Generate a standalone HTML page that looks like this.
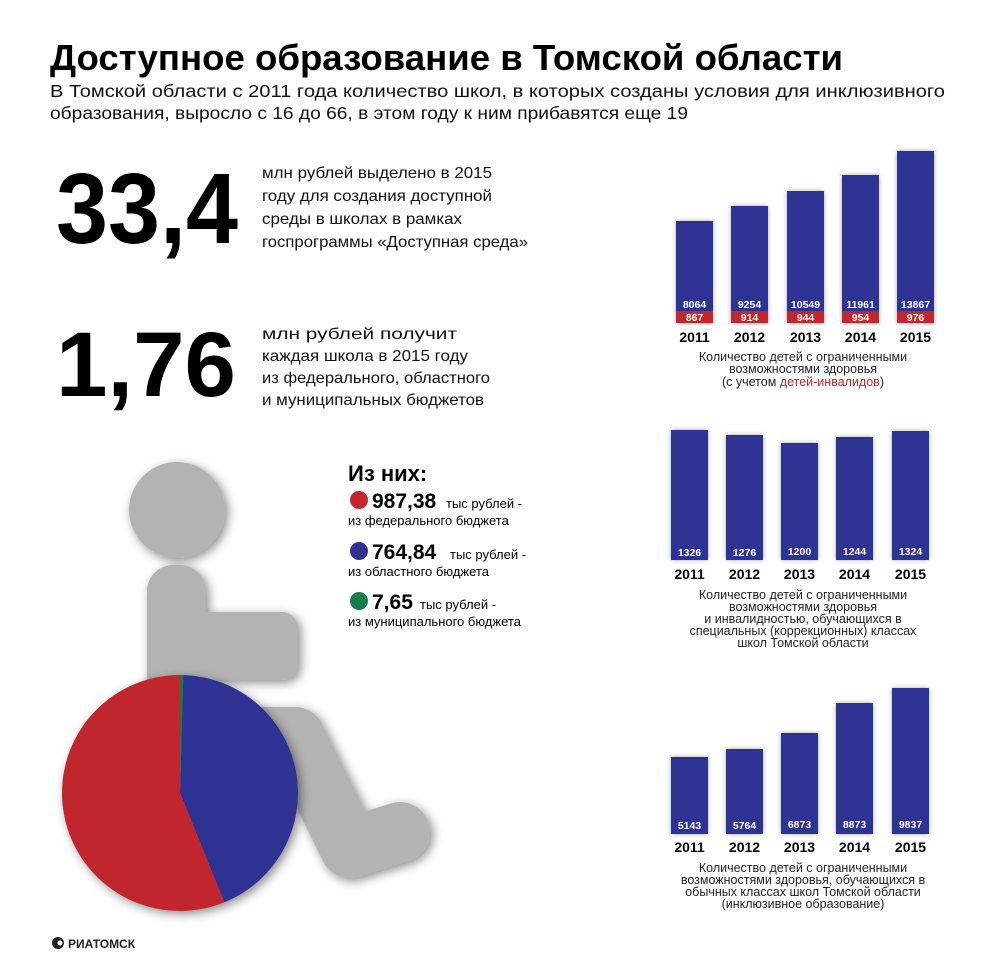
<!DOCTYPE html>
<html><head><meta charset="utf-8"><style>
html,body{margin:0;padding:0;background:#fff}
svg{display:block}
text{font-family:"Liberation Sans",sans-serif}
</style></head><body>
<svg width="1000" height="975" viewBox="0 0 1000 975" xmlns="http://www.w3.org/2000/svg">
<defs>
<filter id="sh" x="-30%" y="-30%" width="160%" height="160%"><feDropShadow dx="3" dy="3" stdDeviation="5" flood-color="#000" flood-opacity="0.45"/></filter>
<filter id="bs" x="-30%" y="-10%" width="160%" height="120%"><feDropShadow dx="0" dy="0" stdDeviation="2.5" flood-color="#000" flood-opacity="0.35"/></filter>
</defs>
<rect width="1000" height="975" fill="#fff"/>
<text x="50" y="70" font-size="36" font-weight="bold" textLength="793" lengthAdjust="spacingAndGlyphs">Доступное образование в Томской области</text>
<text x="50" y="97" font-size="17.5" fill="#111" textLength="895" lengthAdjust="spacingAndGlyphs">В Томской области с 2011 года количество школ, в которых созданы условия для инклюзивного</text>
<text x="50" y="119" font-size="17.5" fill="#111" textLength="638" lengthAdjust="spacingAndGlyphs">образования, выросло с 16 до 66, в этом году к ним прибавятся еще 19</text>

<text x="56" y="243" font-size="100" font-weight="bold" textLength="182" lengthAdjust="spacingAndGlyphs">33,4</text>
<g font-size="16" fill="#111">
<text x="262" y="178" textLength="230" lengthAdjust="spacingAndGlyphs">млн рублей выделено в 2015</text>
<text x="262" y="201" textLength="230" lengthAdjust="spacingAndGlyphs">году для создания доступной</text>
<text x="262" y="224" textLength="200" lengthAdjust="spacingAndGlyphs">среды в школах в рамках</text>
<text x="262" y="247" textLength="266" lengthAdjust="spacingAndGlyphs">госпрограммы «Доступная среда»</text>
<text x="262" y="339" textLength="195" lengthAdjust="spacingAndGlyphs">млн рублей получит</text>
<text x="262" y="361" textLength="206" lengthAdjust="spacingAndGlyphs">каждая школа в 2015 году</text>
<text x="262" y="383" textLength="228" lengthAdjust="spacingAndGlyphs">из федерального, областного</text>
<text x="262" y="405" textLength="222" lengthAdjust="spacingAndGlyphs">и муниципальных бюджетов</text>
</g>
<text x="56" y="396" font-size="92" font-weight="bold" textLength="180" lengthAdjust="spacingAndGlyphs">1,76</text>

<!-- wheelchair figure -->
<g fill="#b3b3b3" filter="url(#sh)">
<circle cx="177" cy="510" r="48"/>
<rect x="147" y="565" width="59" height="180" rx="26"/>
<rect x="147" y="612" width="151" height="68" rx="16"/>
<polyline points="230,737 295,737 350,848 400,832" fill="none" stroke="#b3b3b3" stroke-width="60" stroke-linejoin="round" stroke-linecap="round"/>
</g>
<g filter="url(#sh)">
<path d="M180,793 L183.3,675.05 A118,118 0 0 1 224.2,902.4 Z" fill="#2e3192"/>
<path d="M180,793 L224.2,902.4 A118,118 0 1 1 180,675 Z" fill="#c1272d"/>
<path d="M180,793 L180,675 A118,118 0 0 1 183.3,675.05 Z" fill="#1a7a4a"/>
</g>

<text x="348" y="481" font-size="22" font-weight="bold">Из них:</text>
<circle cx="359" cy="500" r="9" fill="#c1272d"/>
<text x="372" y="508" font-size="21" font-weight="bold">987,38</text>
<text x="446" y="508" font-size="13">тыс рублей -</text>
<text x="348" y="525" font-size="13">из федерального бюджета</text>
<circle cx="359" cy="551" r="9" fill="#2e3192"/>
<text x="372" y="559" font-size="21" font-weight="bold">764,84</text>
<text x="450" y="559" font-size="13">тыс рублей -</text>
<text x="348" y="576" font-size="13">из областного бюджета</text>
<circle cx="359" cy="601" r="9" fill="#1a7a4a"/>
<text x="372" y="609" font-size="21" font-weight="bold">7,65</text>
<text x="420" y="609" font-size="13">тыс рублей -</text>
<text x="348" y="626" font-size="13">из муниципального бюджета</text>

<!-- chart 1 -->
<g filter="url(#bs)">
<rect x="676" y="221" width="37" height="102" fill="#2e3192"/>
<rect x="731" y="206" width="37" height="117" fill="#2e3192"/>
<rect x="787" y="191" width="37" height="132" fill="#2e3192"/>
<rect x="842" y="175" width="37" height="148" fill="#2e3192"/>
<rect x="897" y="151" width="37" height="172" fill="#2e3192"/>
</g>
<g fill="#c1272d">
<rect x="676" y="311" width="37" height="12"/><rect x="731" y="311" width="37" height="12"/><rect x="787" y="311" width="37" height="12"/><rect x="842" y="311" width="37" height="12"/><rect x="897" y="311" width="37" height="12"/>
</g>
<g font-size="10.5" font-weight="bold" fill="#fff" text-anchor="middle">
<text x="694.5" y="308">8064</text><text x="749.5" y="308">9254</text><text x="805.5" y="308">10549</text><text x="860.5" y="308">11961</text><text x="915.5" y="308">13867</text>
<text x="694.5" y="321">867</text><text x="749.5" y="321">914</text><text x="805.5" y="321">944</text><text x="860.5" y="321">954</text><text x="915.5" y="321">976</text>
</g>
<g font-size="14" font-weight="bold" text-anchor="middle">
<text x="694.5" y="342">2011</text><text x="749.5" y="342">2012</text><text x="805.5" y="342">2013</text><text x="860.5" y="342">2014</text><text x="915.5" y="342">2015</text>
</g>
<g font-size="12.5" fill="#222" text-anchor="middle">
<text x="803" y="361">Количество детей с ограниченными</text>
<text x="803" y="373">возможностями здоровья</text>
<text x="803" y="386">(с учетом <tspan fill="#c1272d">детей-инвалидов</tspan>)</text>
</g>

<!-- chart 2 -->
<g filter="url(#bs)" fill="#2e3192">
<rect x="671" y="430" width="37" height="130"/>
<rect x="726" y="435" width="37" height="125"/>
<rect x="781" y="443" width="37" height="117"/>
<rect x="836" y="437" width="37" height="123"/>
<rect x="892" y="431" width="37" height="129"/>
</g>
<g font-size="10.5" font-weight="bold" fill="#fff" text-anchor="middle">
<text x="689.5" y="556">1326</text><text x="744.5" y="556">1276</text><text x="799.5" y="555">1200</text><text x="854.5" y="555">1244</text><text x="910.5" y="555">1324</text>
</g>
<g font-size="14" font-weight="bold" text-anchor="middle">
<text x="689.5" y="579">2011</text><text x="744.5" y="579">2012</text><text x="799.5" y="579">2013</text><text x="854.5" y="579">2014</text><text x="910.5" y="579">2015</text>
</g>
<g font-size="12.5" fill="#222" text-anchor="middle">
<text x="803" y="599">Количество детей с ограниченными</text>
<text x="803" y="611">возможностями здоровья</text>
<text x="803" y="623">и инвалидностью, обучающихся в</text>
<text x="803" y="635">специальных (коррекционных) классах</text>
<text x="803" y="647">школ Томской области</text>
</g>

<!-- chart 3 -->
<g filter="url(#bs)" fill="#2e3192">
<rect x="671" y="757" width="37" height="77"/>
<rect x="726" y="749" width="37" height="85"/>
<rect x="781" y="733" width="37" height="101"/>
<rect x="836" y="703" width="37" height="131"/>
<rect x="892" y="688" width="37" height="146"/>
</g>
<g font-size="10.5" font-weight="bold" fill="#fff" text-anchor="middle">
<text x="689.5" y="829">5143</text><text x="744.5" y="829">5764</text><text x="799.5" y="828">6873</text><text x="854.5" y="828">8873</text><text x="910.5" y="828">9837</text>
</g>
<g font-size="14" font-weight="bold" text-anchor="middle">
<text x="689.5" y="852">2011</text><text x="744.5" y="852">2012</text><text x="799.5" y="852">2013</text><text x="854.5" y="852">2014</text><text x="910.5" y="852">2015</text>
</g>
<g font-size="12.5" fill="#222" text-anchor="middle">
<text x="803" y="872">Количество детей с ограниченными</text>
<text x="803" y="884">возможностями здоровья, обучающихся в</text>
<text x="803" y="896">обычных классах школ Томской области</text>
<text x="803" y="908">(инклюзивное образование)</text>
</g>

<circle cx="58" cy="943" r="6" fill="#222"/>
<circle cx="60" cy="943" r="2.5" fill="#fff"/>
<text x="68" y="948" font-size="12" font-weight="bold" fill="#222">РИАТОМСК</text>
</svg>
</body></html>
